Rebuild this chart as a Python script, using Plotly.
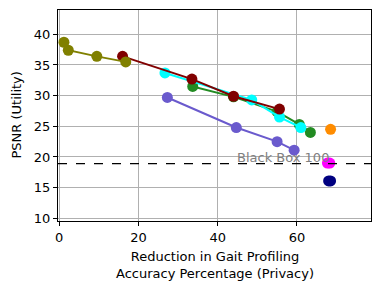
import plotly.graph_objects as go

# Data
olive_x = [1.2, 2.3, 9.5, 16.8]
olive_y = [38.7, 37.4, 36.4, 35.5]
maroon_x = [16.0, 33.5, 44.0, 55.6]
maroon_y = [36.4, 32.7, 29.9, 27.8]
cyan_x = [26.7, 48.6, 55.6, 61.0]
cyan_y = [33.7, 29.3, 26.5, 24.8]
green_x = [33.7, 44.0, 55.0, 60.6, 63.4]
green_y = [31.5, 29.8, 27.4, 25.3, 24.0]
purple_x = [27.3, 44.7, 55.0, 59.3]
purple_y = [29.7, 24.8, 22.5, 21.1]
orange_x = [68.5]
orange_y = [24.5]
magenta_x = [67.7, 68.3]
magenta_y = [19.0, 19.0]
navy_x = [68.0, 68.5]
navy_y = [16.1, 16.1]
blackbox_y = 18.9
blackbox_label = "Black Box 100"

series = [
    (green_x, green_y, "#228B22", True),
    (cyan_x, cyan_y, "#00FFFF", True),
    (maroon_x, maroon_y, "#800000", True),
    (olive_x, olive_y, "#808000", True),
    (purple_x, purple_y, "#6A5ACD", True),
    (orange_x, orange_y, "#FF8C00", False),
    (magenta_x, magenta_y, "#FF00FF", False),
    (navy_x, navy_y, "#000080", False),
]

fig = go.Figure()
for xs, ys, c, joined in series:
    fig.add_trace(go.Scatter(
        x=xs, y=ys, mode="lines+markers" if joined else "markers",
        line=dict(color=c, width=2),
        marker=dict(color=c, size=11),
        showlegend=False,
    ))

fig.add_shape(type="line", xref="paper", x0=0, x1=1, yref="y", y0=blackbox_y, y1=blackbox_y,
              line=dict(color="black", width=1.2, dash="dash"))
fig.add_annotation(x=68.6, y=blackbox_y, xref="x", yref="y", text=blackbox_label,
                   showarrow=False, xanchor="right", yanchor="bottom", yshift=-3,
                   font=dict(color="gray", size=13, family="DejaVu Sans"))

axis_common = dict(
    showgrid=True, gridcolor="#b0b0b0", gridwidth=0.8,
    showline=True, linecolor="black", linewidth=1, mirror=True,
    ticks="outside", ticklen=4, tickcolor="black", zeroline=False, automargin=False,
    tickfont=dict(size=13, family="DejaVu Sans", color="black"),
)
fig.update_xaxes(range=[-0.3, 78.7], tickvals=[0, 20, 40, 60], **axis_common)
fig.update_yaxes(range=[9.56, 43.96], tickvals=[10, 15, 20, 25, 30, 35, 40], **axis_common)
fig.add_annotation(text="Reduction in Gait Profiling<br>Accuracy Percentage (Privacy)",
                   xref="paper", yref="paper", x=0.5, y=0, yshift=-26, xanchor="center", yanchor="top",
                   showarrow=False, font=dict(size=13, family="DejaVu Sans", color="black"))
fig.add_annotation(text="PSNR (Utility)", xref="paper", yref="paper", x=0, xshift=-42, y=0.5,
                   xanchor="center", yanchor="middle", textangle=-90,
                   showarrow=False, font=dict(size=13, family="DejaVu Sans", color="black"))
fig.update_layout(width=380, height=290, margin=dict(l=58, r=9, t=10, b=69),
                  plot_bgcolor="white", paper_bgcolor="white")
fig.write_html("out.html", config={"displayModeBar": False},
               post_script="document.body.style.margin='0';document.body.style.overflow='hidden';")
